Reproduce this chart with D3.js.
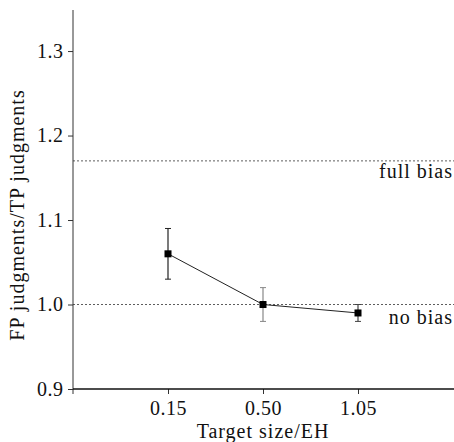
<!DOCTYPE html>
<html>
<head>
<meta charset="utf-8">
<script src="https://cdn.jsdelivr.net/npm/d3@7"></script>
<style>
    body { margin: 0; background: #fff; }
    svg text { font-family: "Liberation Serif", serif; }
</style>
</head>
<body>
<svg id="chart" width="454" height="442" font-family="Liberation Serif"></svg>
<script>
// chart values
var sizes = ["0.15", "0.50", "1.05"];
var ratio = [1.06, 1.00, 0.99];
var upper = [1.09, 1.02, 1.00];
var lower = [1.03, 0.98, 0.98];
var yTicks = [0.9, 1.0, 1.1, 1.2, 1.3];
var refValues = [1.17, 1.00];
var refLabels = ["full bias", "no bias"];

var svg = d3.select("#chart");
var plotLeft = 73, plotRight = 453, plotTop = 10, plotBottom = 389;

function styleText(sel, spacing) {
    return sel.attr("font-family", null)
        .style("font-size", "20px")
        .style("letter-spacing", spacing + "px")
        .style("fill", "#111");
}

var x = d3.scalePoint()
    .domain(["", sizes[0], sizes[1], sizes[2], " "])
    .range([plotLeft, plotRight]);

var y = d3.scaleLinear()
    .domain([0.9, 1.3486])
    .range([plotBottom, plotTop]);

// reference lines
svg.selectAll("line.ref")
    .data(refValues)
    .enter().append("line")
    .attr("class", "ref")
    .attr("x1", plotLeft).attr("x2", 454)
    .attr("y1", function(d) { return y(d); })
    .attr("y2", function(d) { return y(d); })
    .attr("stroke", "#333")
    .attr("stroke-width", 0.8)
    .attr("stroke-dasharray", "2,2");

styleText(svg.selectAll("text.ref")
    .data(refLabels)
    .enter().append("text")
    .attr("class", "ref")
    .attr("x", 453)
    .attr("y", function(d, i) { return y(refValues[i]) + (i == 0 ? 17 : 19); })
    .attr("text-anchor", "end")
    .text(function(d) { return d; }), 1);

// y axis
var yAxis = d3.axisLeft(y).tickValues(yTicks).tickSize(5)
    .tickFormat(d3.format(".1f"));
var gy = svg.append("g")
    .attr("transform", "translate(" + plotLeft + ",0)")
    .call(yAxis)
    .attr("font-family", null);
gy.select(".domain").remove();
gy.append("line")
    .attr("x1", 0).attr("x2", 0)
    .attr("y1", plotTop).attr("y2", plotBottom + 5)
    .attr("stroke", "#333");
gy.selectAll(".tick line").attr("stroke", "#333");
styleText(gy.selectAll(".tick text"), 0.5)
    .attr("x", -9.5);

// x axis
var xAxis = d3.axisBottom(x).tickValues(sizes).tickSize(5);
var gx = svg.append("g")
    .attr("transform", "translate(0," + plotBottom + ")")
    .call(xAxis)
    .attr("font-family", null);
gx.select(".domain").remove();
gx.append("line")
    .attr("x1", plotLeft).attr("x2", 454)
    .attr("stroke", "#111")
    .attr("stroke-width", 1.4);
gx.selectAll(".tick line").attr("stroke", "#333");
styleText(gx.selectAll(".tick text"), 0.5)
    .attr("dy", "0.9em");

// axis titles
styleText(svg.append("text")
    .attr("x", x(sizes[1]))
    .attr("y", 438)
    .attr("text-anchor", "middle")
    .text("Target size/EH"), 1);

styleText(svg.append("text")
    .attr("transform", "translate(24,215) rotate(-90)")
    .attr("text-anchor", "middle")
    .text("FP judgments/TP judgments"), 1);

// error bars
var errColor = ["#222", "#888", "#444"];
var err = svg.append("g");
sizes.forEach(function(s, i) {
    var cx = x(s);
    err.append("line")
        .attr("x1", cx).attr("x2", cx)
        .attr("y1", y(upper[i])).attr("y2", y(lower[i]))
        .attr("stroke", errColor[i]).attr("stroke-width", 1.2);
    [upper[i], lower[i]].forEach(function(v) {
        err.append("line")
            .attr("x1", cx - 3).attr("x2", cx + 3)
            .attr("y1", y(v)).attr("y2", y(v))
            .attr("stroke", errColor[i]).attr("stroke-width", 1);
    });
});

// line and markers
var line = d3.line()
    .x(function(d, i) { return x(sizes[i]); })
    .y(function(d) { return y(d); });

svg.append("path")
    .datum(ratio)
    .attr("d", line)
    .attr("fill", "none")
    .attr("stroke", "#222")
    .attr("stroke-width", 1);

svg.selectAll("rect.pt")
    .data(ratio)
    .enter().append("rect")
    .attr("class", "pt")
    .attr("x", function(d, i) { return x(sizes[i]) - 3.5; })
    .attr("y", function(d) { return y(d) - 3.5; })
    .attr("width", 7).attr("height", 7)
    .attr("fill", "#000");
</script>
</body>
</html>
